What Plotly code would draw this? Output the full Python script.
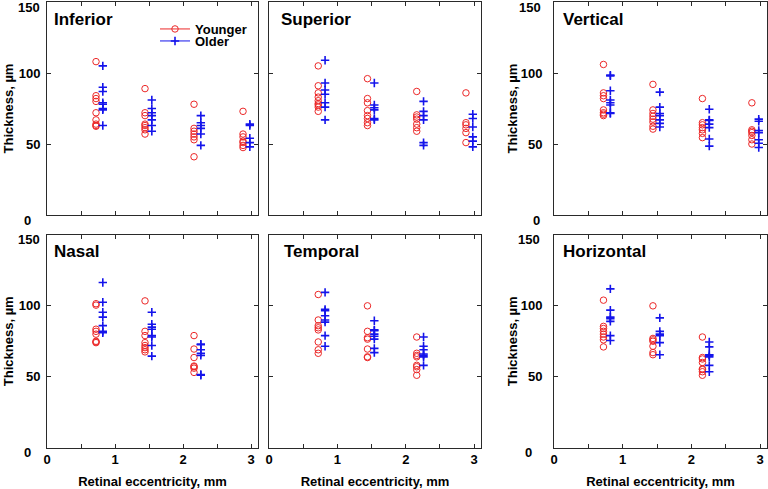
import plotly.graph_objects as go

# ---------------- data ----------------
ecc_younger = [0.72, 1.44, 2.16, 2.88]
ecc_older = [0.82, 1.54, 2.26, 2.98]

inferior_younger = [[108, 84, 82, 80, 72, 67, 64, 63, 62.5], [89, 72, 70, 64, 63, 61.5, 60, 57],
                    [78, 61, 59, 57, 55, 53, 41], [73, 57, 55, 52, 51, 49, 47.5]]
inferior_older = [[105, 90, 87, 79, 78, 75, 74, 63], [81, 75, 72, 70, 67, 63, 59],
                  [70, 65, 63, 61, 57, 49], [64, 63, 54, 51, 48]]

superior_younger = [[105, 91, 86, 83, 80.5, 78.5, 77.5, 76, 73], [96, 82, 79, 73.5, 70, 68, 65, 63],
                    [87, 70.5, 69, 67.5, 64, 61.5, 59], [86, 65, 63.5, 61, 58, 51]]
superior_older = [[109, 93, 88, 85, 79, 76, 67], [93, 77.5, 75.5, 74, 68, 67],
                  [80, 73, 70, 67, 51, 49], [71, 68, 62, 55, 52, 48]]

vertical_younger = [[106, 86, 84, 82, 74, 72, 71, 70], [92, 74, 71.5, 69.5, 67.5, 65.5, 62.5, 60.5],
                    [82, 65, 63.5, 61.5, 60, 57.5, 54.5], [79, 60, 59, 58, 56, 53, 50]]
vertical_older = [[98.5, 98, 87.5, 81, 79, 77.5, 72, 71.5], [86.5, 76, 71.5, 70, 67, 64.5, 62],
                  [74.5, 67, 66.5, 64, 61.5, 53.5, 48.5], [67.5, 66, 59.5, 58, 53, 50.5, 47.5]]

nasal_younger = [[101.5, 100.5, 83.5, 82, 80, 75, 74.5, 74], [103.5, 82, 79, 74, 72, 70.5, 69, 67.5],
                 [79, 69.5, 63.5, 57.5, 57, 56, 53]]
nasal_older = [[116.5, 102.5, 95.5, 92, 86, 82, 81], [95.5, 87, 85, 83.5, 79, 78, 72, 64.5],
               [73, 72.5, 69, 66.5, 65, 51.5, 51]]

temporal_younger = [[108, 90, 86, 84.5, 83, 74.5, 69, 66.5], [100, 82, 77.5, 76.5, 69.5, 64, 63.5],
                    [78, 66.5, 65, 64, 58, 57, 55, 51]]
temporal_older = [[109.5, 97.5, 96.5, 93, 90, 88.5, 79, 71.5], [89.5, 83, 82.5, 80, 78.5, 76.5, 70, 67],
                  [78, 71.5, 69, 66, 65, 64, 58]]

horizontal_younger = [[104, 85.5, 84, 82, 80, 78, 76, 71], [100, 77, 76, 75, 71.5, 67, 65.5],
                      [78, 63.5, 62.5, 60, 55.5, 55, 53.5, 51]]
horizontal_older = [[112, 97, 92, 91, 89, 79, 75.5], [91.5, 82, 80, 79, 74, 65.5],
                    [74.5, 71, 65.5, 65, 64, 58, 53.5]]

panel_names = ["Inferior", "Superior", "Vertical", "Nasal", "Temporal", "Horizontal"]
younger_sets = [inferior_younger, superior_younger, vertical_younger,
                nasal_younger, temporal_younger, horizontal_younger]
older_sets = [inferior_older, superior_older, vertical_older,
              nasal_older, temporal_older, horizontal_older]

x_tickvals = [0, 0.5, 1, 1.5, 2, 2.5, 3]
x_ticktext = ["0", "", "1", "", "2", "", "3"]
y_tickvals = [0, 50, 100, 150]
y_ticktext = ["", "50", "100", ""]   # "0" and "150" are drawn as offset labels below

# ---------------- layout geometry (pixels) ----------------
W, H = 768, 489
col_px = [(47, 258), (269, 481), (554, 767)]
row_px = [(2, 215), (235, 447.5)]

RED = "rgb(236,40,40)"
BLUE = "rgb(20,20,235)"
FONT = "Arial, Liberation Sans, sans-serif"
AX = "#2a2a2a"

fig = go.Figure()
layout = dict(width=W, height=H, margin=dict(l=0, r=0, t=0, b=0),
              paper_bgcolor="white", plot_bgcolor="white",
              font=dict(family=FONT, size=13, color="black"),
              showlegend=True)
annotations = []

title_dx = [0.026, 0.045, 0.034, 0.026, 0.06, 0.032]
label_gap = [5, None, 11, 5, None, 12]
zero_dx = [-14, None, -12, -14, None, -20]

for i in range(6):
    r, c = divmod(i, 3)
    n = i + 1
    xa = "x" if n == 1 else f"x{n}"
    ya = "y" if n == 1 else f"y{n}"
    xkey = "xaxis" if n == 1 else f"xaxis{n}"
    ykey = "yaxis" if n == 1 else f"yaxis{n}"
    xl, xr = col_px[c]
    yt, yb = row_px[r]

    yv = younger_sets[i]
    ov = older_sets[i]
    xs_y, ys_y, xs_o, ys_o = [], [], [], []
    for k, vals in enumerate(yv):
        xs_y += [ecc_younger[k]] * len(vals)
        ys_y += vals
    for k, vals in enumerate(ov):
        xs_o += [ecc_older[k]] * len(vals)
        ys_o += vals

    fig.add_trace(go.Scatter(x=xs_y, y=ys_y, mode="markers", xaxis=xa, yaxis=ya,
                             showlegend=False, name="Younger",
                             marker=dict(symbol="circle-open", size=6.5, color=RED,
                                         line=dict(width=1, color=RED))))
    fig.add_trace(go.Scatter(x=xs_o, y=ys_o, mode="markers", xaxis=xa, yaxis=ya,
                             showlegend=False, name="Older",
                             marker=dict(symbol="cross-thin-open", size=6, color=BLUE,
                                         line=dict(width=1.6, color=BLUE))))

    bottom = (r == 1)
    left_labels = (c != 1)
    layout[xkey] = dict(domain=[xl / W, xr / W], anchor=ya, range=[0, 3.1],
                        tickmode="array", tickvals=x_tickvals,
                        ticktext=x_ticktext if bottom else [""] * len(x_tickvals),
                        showticklabels=bottom,
                        ticks="inside", ticklen=4, tickwidth=1, tickcolor=AX,
                        showline=True, linecolor=AX, linewidth=1, mirror="ticks",
                        showgrid=False, zeroline=False,
                        tickfont=dict(family=FONT, size=13, color="black", weight="bold"),
                        automargin=False)
    if bottom:
        layout[xkey]["title"] = dict(text="<b>Retinal eccentricity, mm</b>", standoff=11,
                                     font=dict(family=FONT, size=13, color="black"))
    layout[ykey] = dict(domain=[1 - yb / H, 1 - yt / H], anchor=xa, range=[0, 150],
                        tickmode="array", tickvals=y_tickvals,
                        ticktext=y_ticktext if left_labels else [""] * 4,
                        showticklabels=left_labels,
                        ticks="inside", ticklen=4, tickwidth=1, tickcolor=AX,
                        showline=True, linecolor=AX, linewidth=1, mirror="ticks",
                        showgrid=False, zeroline=False,
                        ticklabelstandoff=3 if c == 0 else 8,
                        tickfont=dict(family=FONT, size=13, color="black", weight="bold"),
                        automargin=False)
    if left_labels:
        layout[ykey]["title"] = dict(text="<b>Thickness, µm</b>", standoff=2 if c == 0 else 0,
                                     font=dict(family=FONT, size=13, color="black"))
        annotations.append(dict(text="<b>0</b>", xref=f"{xa} domain", yref=f"{ya} domain",
                                x=0, y=0, xanchor="right", yanchor="middle",
                                xshift=zero_dx[i], yshift=-5, showarrow=False,
                                font=dict(family=FONT, size=13, color="black")))
        annotations.append(dict(text="<b>150</b>", xref=f"{xa} domain", yref=f"{ya} domain",
                                x=0, y=1, xanchor="right", yanchor="middle",
                                xshift=-label_gap[i], yshift=-5, showarrow=False,
                                font=dict(family=FONT, size=13, color="black")))

    annotations.append(dict(text=f"<b>{panel_names[i]}</b>", xref=f"{xa} domain",
                            yref=f"{ya} domain", x=title_dx[i], y=0.92,
                            xanchor="left", yanchor="middle", showarrow=False,
                            font=dict(family=FONT, size=17, color="black")))

# legend entries (line + marker glyphs, like the original), one legend box each
fig.add_trace(go.Scatter(x=[None], y=[None], mode="lines+markers", name="Younger",
                         legend="legend",
                         line=dict(color=RED, width=1),
                         marker=dict(symbol="circle-open", size=6.5, color=RED,
                                     line=dict(width=1, color=RED))))
fig.add_trace(go.Scatter(x=[None], y=[None], mode="lines+markers", name="Older",
                         legend="legend2",
                         line=dict(color=BLUE, width=1),
                         marker=dict(symbol="cross-thin-open", size=6, color=BLUE,
                                     line=dict(width=1.6, color=BLUE))))

leg_common = dict(x=155 / W, xanchor="left", yanchor="top",
                  bgcolor="rgba(0,0,0,0)", borderwidth=0, itemwidth=30,
                  font=dict(family=FONT, size=13, color="black", weight="bold"))
layout["legend"] = dict(y=1 - 14 / H, **leg_common)
layout["legend2"] = dict(y=1 - 26 / H, **leg_common)
layout["annotations"] = annotations
fig.update_layout(**layout)

fig.write_html("out.html", config={"displayModeBar": False},
               post_script="document.body.style.margin='0px';")
